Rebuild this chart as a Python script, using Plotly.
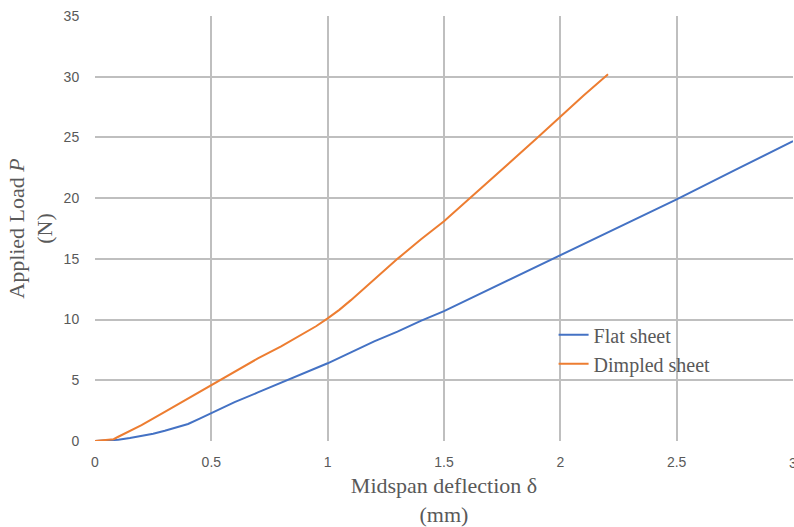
import plotly.graph_objects as go

flat_x = [0, 0.05, 0.1, 0.15, 0.2, 0.25, 0.3, 0.35, 0.4, 0.45, 0.5, 0.6, 0.7, 0.8, 0.9,
          1.0, 1.1, 1.2, 1.3, 1.4, 1.5, 1.75, 2.0, 2.25, 2.5, 2.75, 3.0]
flat_y = [0, 0.02, 0.1, 0.25, 0.4, 0.6, 0.85, 1.1, 1.4, 1.85, 2.3, 3.2, 4.0, 4.8, 5.6,
          6.4, 7.3, 8.2, 9.0, 9.9, 10.7, 13.0, 15.3, 17.6, 19.9, 22.3, 24.7]

dimp_x = [0, 0.04, 0.08, 0.1, 0.15, 0.2, 0.3, 0.4, 0.5, 0.6, 0.7, 0.8, 0.9, 0.95,
          1.0, 1.05, 1.1, 1.2, 1.3, 1.4, 1.5, 1.6, 1.7, 1.8, 1.9, 2.0, 2.1, 2.205]
dimp_y = [0, 0.1, 0.15, 0.35, 0.8, 1.3, 2.4, 3.5, 4.6, 5.7, 6.8, 7.8, 8.9, 9.45,
          10.1, 10.8, 11.6, 13.3, 15.0, 16.6, 18.1, 19.8, 21.5, 23.2, 24.95, 26.7, 28.45, 30.2]

x_ticks = [0, 0.5, 1, 1.5, 2, 2.5]
x_tick_labels = ["0", "0.5", "1", "1.5", "2", "2.5"]
x_edge_label = "3"
y_ticks = [0, 5, 10, 15, 20, 25, 30, 35]

serif = "Liberation Serif"
sans = "Liberation Sans, Arial"
txt = "#595959"
grid = "#bfbfbf"

fig = go.Figure()
fig.add_trace(go.Scatter(x=flat_x, y=flat_y, mode="lines", name="Flat sheet",
                         line=dict(color="#4472C4", width=2)))
fig.add_trace(go.Scatter(x=dimp_x, y=dimp_y, mode="lines", name="Dimpled sheet",
                         line=dict(color="#ED7D31", width=2)))

# right-edge tick label (partly cut off by the page edge, as in the reference)
fig.add_annotation(x=3, y=0, xref="x", yref="y", text=x_edge_label, showarrow=False,
                   xanchor="center", yanchor="top", yshift=-12,
                   font=dict(family=sans, size=14, color=txt))

fig.update_layout(
    width=794, height=527,
    margin=dict(l=95, r=1, t=16, b=86),
    paper_bgcolor="white", plot_bgcolor="white",
    showlegend=True,
    legend=dict(x=0.657, y=0.296, xanchor="left", yanchor="top",
                font=dict(family=serif, size=20, color=txt),
                bgcolor="rgba(0,0,0,0)", itemwidth=30, tracegroupgap=0),
    xaxis=dict(range=[0, 3], tickvals=x_ticks + [3], ticktext=x_tick_labels + [""],
               showgrid=True, gridcolor=grid, gridwidth=1.5,
               zeroline=False, showline=False, automargin=False,
               ticks="outside", ticklen=8, tickcolor="rgba(0,0,0,0)",
               tickfont=dict(family=sans, size=14, color=txt),
               title=dict(text="Midspan deflection δ<br>(mm)",
                          font=dict(family=serif, size=22, color=txt), standoff=14)),
    yaxis=dict(range=[0, 35], tickvals=y_ticks,
               showgrid=True, gridcolor=grid, gridwidth=1.5,
               zeroline=False, showline=False, automargin=False,
               ticks="outside", ticklen=12, tickcolor="rgba(0,0,0,0)",
               tickfont=dict(family=sans, size=14, color=txt),
               title=dict(text="Applied Load <i>P</i><br>(N)",
                          font=dict(family=serif, size=22, color=txt), standoff=4)),
)

fig.write_html("out.html", config={"displayModeBar": False},
               post_script="document.body.style.margin='0';")
